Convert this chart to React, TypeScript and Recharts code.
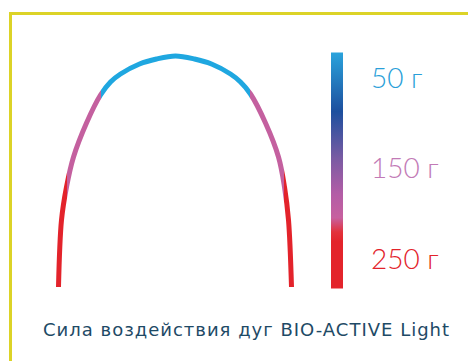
import { LineChart, Line, XAxis, YAxis, ReferenceArea, ReferenceLine } from "recharts";

// arch shape: horizontal offset from the arch centre and height above its ends
const archX = [-117, -114, -109, -102, -89, -75, -65, -55, -36, -19, 0, 19, 36, 55, 65, 75, 90, 103, 109, 113, 116];
const archH = [0, 67, 100, 130, 164, 192, 205, 213, 223, 228, 231, 228, 223, 213, 205, 193, 164, 130, 100, 67, 0];

// where the force zones change along the arch
const zoneEdges = [-109, -75, 75, 109];
const zoneColors = ["#e3232b", "#c4609f", "#1fa7e0", "#c4609f", "#e3232b"];

// force scale
const weights = [50, 150, 250];
const weightLabels = ["50 г", "150 г", "250 г"];
const weightColors = ["#2a9fd9", "#c27ab6", "#e3232b"];

const caption = "Сила воздействия дуг BIO-ACTIVE Light";

const W = 468;
const H = 361;
const xDomain = [-175.5, 292.5];
const toPx = (v: number) => ((v - xDomain[0]) / (xDomain[1] - xDomain[0])) * W;

const data = archX.map((x, i) => ({ x, h: archH[i] }));

const xMin = Math.min(...archX);
const xMax = Math.max(...archX);
const archStops: { offset: number; color: string }[] = [];
zoneColors.forEach((c, i) => {
  const from = i === 0 ? xMin : zoneEdges[i - 1];
  const to = i === zoneColors.length - 1 ? xMax : zoneEdges[i];
  archStops.push({ offset: (from - xMin) / (xMax - xMin), color: c });
  archStops.push({ offset: (to - xMin) / (xMax - xMin), color: c });
});

// centripetal catmull-rom, so the steep ends and the crown stay smooth
const catmullRom = (context: any) => {
  let pts: [number, number][] = [];
  const dist = (a: number[], b: number[]) => Math.sqrt(Math.hypot(a[0] - b[0], a[1] - b[1]));
  return {
    areaStart() {},
    areaEnd() {},
    lineStart() {
      pts = [];
    },
    point(x: number, y: number) {
      pts.push([+x, +y]);
    },
    lineEnd() {
      if (!pts.length) return;
      context.moveTo(pts[0][0], pts[0][1]);
      for (let i = 0; i < pts.length - 1; i++) {
        const p0 = pts[i - 1];
        const p1 = pts[i];
        const p2 = pts[i + 1];
        const p3 = pts[i + 2];
        const l12 = dist(p1, p2);
        let c1 = [p1[0], p1[1]];
        let c2 = [p2[0], p2[1]];
        if (p0) {
          const l01 = dist(p0, p1);
          const a = 2 * l01 * l01 + 3 * l01 * l12 + l12 * l12;
          const n = 3 * l01 * (l01 + l12);
          c1 = [0, 1].map((k) => (p1[k] * a - p0[k] * l12 * l12 + p2[k] * l01 * l01) / n);
        }
        if (p3) {
          const l23 = dist(p2, p3);
          const b = 2 * l23 * l23 + 3 * l23 * l12 + l12 * l12;
          const m = 3 * l23 * (l23 + l12);
          c2 = [0, 1].map((k) => (p2[k] * b + p1[k] * l23 * l23 - p3[k] * l12 * l12) / m);
        }
        context.bezierCurveTo(c1[0], c1[1], c2[0], c2[1], p2[0], p2[1]);
      }
    },
  };
};

const App = () => {
  return (
    <div style={{ position: "absolute", left: 0, top: 0, width: W, height: H, background: "#fff" }}>
      <div
        style={{
          position: "absolute",
          left: 9,
          top: 12,
          right: 0,
          bottom: 0,
          borderTop: "3px solid #dcd327",
          borderLeft: "3px solid #dcd327",
        }}
      />
      <div style={{ position: "absolute", left: 0, top: 0 }}>
        <LineChart width={W} height={H} data={data} margin={{ top: 0, right: 0, bottom: 0, left: 0 }}>
          <defs>
            <linearGradient
              id="archGrad"
              gradientUnits="userSpaceOnUse"
              x1={toPx(xMin)}
              y1={0}
              x2={toPx(xMax)}
              y2={0}
            >
              {archStops.map((s, i) => (
                <stop key={i} offset={s.offset} stopColor={s.color} />
              ))}
            </linearGradient>
            <linearGradient id="barGrad" x1="0" y1="0" x2="0" y2="1">
              <stop offset="0" stopColor="#2aa3dc" />
              <stop offset="0.25" stopColor="#1d4f9e" />
              <stop offset="0.45" stopColor="#7a5ba3" />
              <stop offset="0.6" stopColor="#b35da6" />
              <stop offset="0.7" stopColor="#c7609f" />
              <stop offset="0.76" stopColor="#e2323c" />
              <stop offset="0.8" stopColor="#e3242b" />
              <stop offset="1" stopColor="#e3242b" />
            </linearGradient>
          </defs>
          <XAxis type="number" dataKey="x" domain={xDomain} hide allowDataOverflow />
          <YAxis yAxisId="a" domain={[-74, 287]} hide allowDataOverflow />
          <YAxis yAxisId="w" reversed domain={[-36, 363]} hide allowDataOverflow />
          <ReferenceArea
            yAxisId="w"
            x1={155.5}
            x2={167.5}
            y1={22}
            y2={283}
            fill="url(#barGrad)"
            fillOpacity={1}
            stroke="none"
          />
          {weights.map((w, i) => (
            <ReferenceLine
              key={w}
              yAxisId="w"
              y={w}
              stroke="none"
              label={(p: any) => (
                <text
                  x={371}
                  y={p.viewBox.y}
                  dy={10}
                  fill={weightColors[i]}
                  fontSize={28}
                  fontWeight={300}
                  fontFamily="Lato, sans-serif"
                >
                  {weightLabels[i]}
                </text>
              )}
            />
          ))}
          <Line
            yAxisId="a"
            type={catmullRom as any}
            dataKey="h"
            stroke="url(#archGrad)"
            strokeWidth={5}
            dot={false}
            activeDot={false}
            isAnimationActive={false}
          />
        </LineChart>
      </div>
      <div
        style={{
          position: "absolute",
          left: 43,
          top: 321,
          fontFamily: "'DejaVu Sans', sans-serif",
          fontSize: 18,
          lineHeight: "18px",
          letterSpacing: 1,
          color: "#1e4a66",
          whiteSpace: "nowrap",
        }}
      >
        {caption}
      </div>
    </div>
  );
};

export default App;
